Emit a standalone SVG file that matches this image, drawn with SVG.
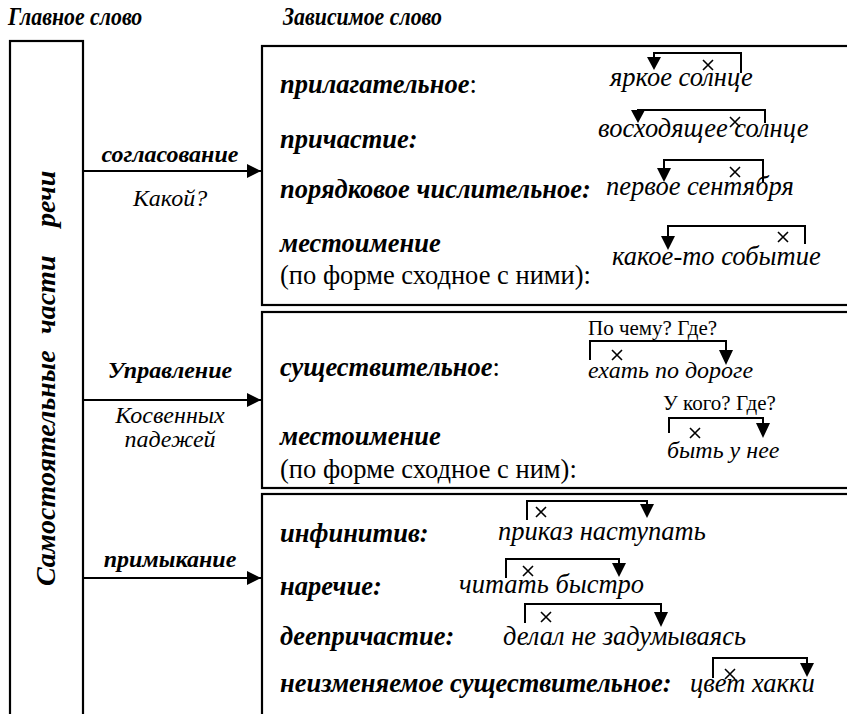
<svg xmlns="http://www.w3.org/2000/svg" width="847" height="714" viewBox="0 0 847 714">
<style>
.bi{font-family:"Liberation Serif",serif;font-style:italic;font-weight:bold;fill:#000}
.it{font-family:"Liberation Serif",serif;font-style:italic;fill:#000}
.rg{font-family:"Liberation Serif",serif;fill:#000}
.box{fill:none;stroke:#000;stroke-width:2.2}
.ln{fill:none;stroke:#000;stroke-width:2}
.x{fill:none;stroke:#000;stroke-width:1.6}
.ah{fill:#000}
</style>
<defs>
<marker id="arr" viewBox="0 0 14 14" refX="14" refY="7" markerWidth="14" markerHeight="14" markerUnits="userSpaceOnUse" orient="auto">
<path d="M0,0 L14,7 L0,14 Z" fill="#000"/>
</marker>
<g id="xm"><path class="x" d="M-5,-5 L5,5 M5,-5 L-5,5"/></g>
</defs>
<rect width="847" height="714" fill="#fff"/>

<g id="headers">
<text class="bi" font-size="26" transform="translate(8,25) scale(0.84,1)">Главное слово</text>
<text class="bi" font-size="26" transform="translate(283,25) scale(0.84,1)">Зависимое слово</text>
</g>

<g id="main-word">
<rect class="box" x="10" y="41" width="73" height="690"/>
<text class="bi" font-size="28" transform="translate(55,586) rotate(-90)"><tspan x="0">Самостоятельные</tspan><tspan x="252">части</tspan><tspan x="359">речи</tspan></text>
</g>

<g id="connectors">
<line class="ln" x1="83" y1="171" x2="261" y2="171" marker-end="url(#arr)"/>
<line class="ln" x1="83" y1="400" x2="261" y2="400" marker-end="url(#arr)"/>
<line class="ln" x1="83" y1="578" x2="261" y2="578" marker-end="url(#arr)"/>
<text class="bi" x="170" y="162" font-size="24" text-anchor="middle">согласование</text>
<text class="it" x="170" y="206" font-size="24" text-anchor="middle">Какой?</text>
<text class="bi" x="170" y="378" font-size="24" text-anchor="middle">Управление</text>
<text class="it" x="170" y="423" font-size="24" text-anchor="middle">Косвенных</text>
<text class="it" x="170" y="447" font-size="24" text-anchor="middle">падежей</text>
<text class="bi" x="170" y="567" font-size="24" text-anchor="middle">примыкание</text>
</g>

<g id="agreement">
<rect class="box" x="262" y="46" width="600" height="259"/>
<text class="bi" x="280" y="93" font-size="26.5">прилагательное<tspan font-weight="normal" font-style="normal">:</tspan></text>
<text class="bi" x="280" y="148" font-size="26.5">причастие:</text>
<text class="bi" x="280" y="198" font-size="26.5">порядковое числительное:</text>
<text class="bi" x="280" y="252" font-size="26.5">местоимение</text>
<text class="rg" x="280" y="284" font-size="26.5">(по форме сходное с ними):</text>

<text class="it" x="610" y="86" font-size="26.5">яркое солнце</text>
<path class="ln" d="M654,64 V53 H741 V73"/><path class="ah" d="M647,57 H661 L654,70 Z"/><use href="#xm" x="708" y="65"/>

<text class="it" x="598" y="137" font-size="26.5">восходящее солнце</text>
<path class="ln" d="M638,116 V110 H765 V123"/><path class="ah" d="M631,110 H645 L638,123 Z"/><use href="#xm" x="735" y="122"/>

<text class="it" x="606" y="195" font-size="26.5">первое сентября</text>
<path class="ln" d="M664,170 V160 H763 V183"/><path class="ah" d="M657,168 H671 L664,182 Z"/><use href="#xm" x="735" y="172"/>

<text class="it" x="612" y="265" font-size="26.5">какое-то событие</text>
<path class="ln" d="M668,240 V226 H805 V244"/><path class="ah" d="M661,236 H675 L668,250 Z"/><use href="#xm" x="783" y="237"/>
</g>

<g id="government">
<rect class="box" x="262" y="312" width="600" height="176"/>
<text class="bi" x="280" y="376" font-size="26.5">существительное<tspan font-weight="normal" font-style="normal">:</tspan></text>
<text class="bi" x="280" y="445" font-size="26.5">местоимение</text>
<text class="rg" x="280" y="478" font-size="26.5">(по форме сходное с ним):</text>

<text class="rg" x="588" y="335" font-size="21">По чему? Где?</text>
<path class="ln" d="M590,360 V341 H726 V352"/><path class="ah" d="M719,350 H733 L726,365 Z"/><use href="#xm" x="617" y="355"/>
<text class="it" x="588" y="378" font-size="24">ехать по дороге</text>

<text class="rg" x="663" y="410" font-size="21">У кого? Где?</text>
<path class="ln" d="M669,433 V418 H763 V425"/><path class="ah" d="M756,423 H770 L763,438 Z"/><use href="#xm" x="695" y="433"/>
<text class="it" x="667" y="458" font-size="24">быть у нее</text>
</g>

<g id="adjoining">
<rect class="box" x="262" y="494" width="600" height="240"/>
<text class="bi" x="280" y="542" font-size="26.5">инфинитив:</text>
<text class="bi" x="280" y="595" font-size="26.5">наречие:</text>
<text class="bi" x="280" y="645" font-size="26.5">деепричастие:</text>
<text class="bi" x="280" y="692" font-size="26.5">неизменяемое существительное:</text>

<path class="ln" d="M527,520 V501 H647 V506"/><path class="ah" d="M640,504 H654 L647,518 Z"/><use href="#xm" x="541" y="512"/>
<text class="it" x="498" y="540" font-size="26.5">приказ наступать</text>

<path class="ln" d="M506,578 V559 H619 V564"/><path class="ah" d="M612,563 H626 L619,577 Z"/><use href="#xm" x="528" y="571"/>
<text class="it" x="459" y="593" font-size="26.5">читать быстро</text>

<path class="ln" d="M525,623 V604 H661 V612"/><path class="ah" d="M654,612 H668 L661,627 Z"/><use href="#xm" x="546" y="617"/>
<text class="it" x="503" y="645" font-size="26.5">делал не задумываясь</text>

<path class="ln" d="M713,678 V658 H807 V664"/><path class="ah" d="M800,663 H814 L807,677 Z"/><use href="#xm" x="730" y="674"/>
<text class="it" x="690" y="692" font-size="26.5">цвет хакки</text>
</g>
</svg>
